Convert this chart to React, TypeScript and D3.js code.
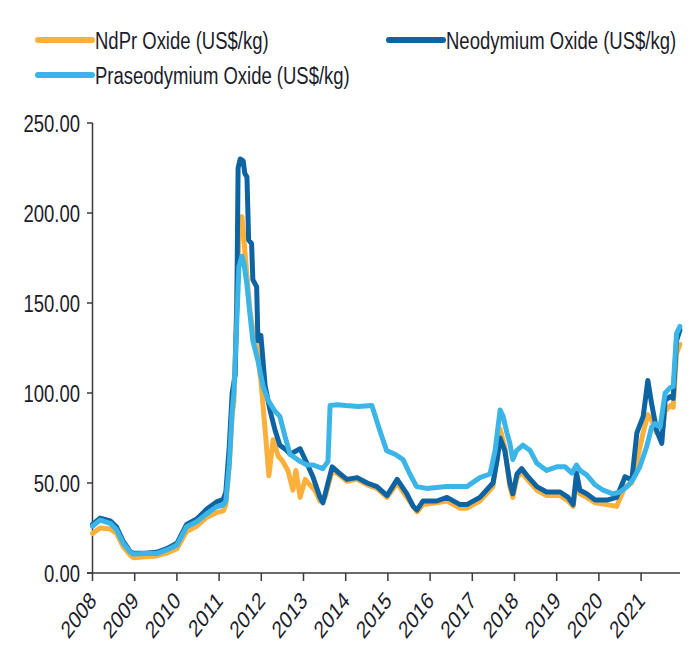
import { useEffect, useRef } from "react";
import * as d3 from "d3";

// [decimal year, US$/kg]
const ndprSeries: [number, number][] = [
  [2008.0, 22], [2008.18, 25], [2008.42, 24.5], [2008.57, 22], [2008.73, 14.5],
  [2008.89, 10], [2008.97, 8.5], [2009.24, 9], [2009.52, 9.5], [2009.76, 11],
  [2010.0, 13.5], [2010.23, 23], [2010.47, 26], [2010.71, 31], [2010.94, 33.5],
  [2011.1, 34.5], [2011.16, 38], [2011.24, 60], [2011.31, 88], [2011.35, 95],
  [2011.42, 150], [2011.47, 190], [2011.54, 198], [2011.59, 185], [2011.66, 165],
  [2011.73, 146], [2011.8, 135], [2011.89, 125], [2011.99, 107], [2012.11, 74],
  [2012.18, 54], [2012.28, 74], [2012.4, 65], [2012.51, 62], [2012.63, 57],
  [2012.75, 46], [2012.82, 57], [2012.92, 42], [2013.04, 52], [2013.15, 49],
  [2013.27, 46], [2013.39, 40], [2013.51, 42], [2013.6, 50], [2013.68, 57],
  [2013.82, 55], [2014.03, 51], [2014.27, 52], [2014.51, 49], [2014.74, 47],
  [2014.98, 42], [2015.22, 50], [2015.45, 42], [2015.69, 34], [2015.83, 38],
  [2016.16, 39], [2016.4, 40], [2016.71, 36], [2016.87, 36], [2017.18, 40],
  [2017.49, 48], [2017.59, 65], [2017.66, 80], [2017.77, 70], [2017.89, 48],
  [2017.96, 42], [2018.06, 53], [2018.17, 56], [2018.32, 51.5], [2018.53, 46],
  [2018.76, 43], [2019.08, 43], [2019.27, 40], [2019.39, 37], [2019.47, 52],
  [2019.55, 44], [2019.71, 42], [2019.91, 39], [2020.19, 38], [2020.42, 37],
  [2020.62, 48], [2020.78, 50], [2020.9, 62], [2021.05, 78], [2021.16, 88],
  [2021.25, 85], [2021.37, 78], [2021.49, 76], [2021.57, 90], [2021.69, 93],
  [2021.76, 92], [2021.84, 122], [2021.92, 127],
];

const neodymiumSeries: [number, number][] = [
  [2008.0, 27], [2008.18, 30.5], [2008.42, 29], [2008.57, 25.5], [2008.73, 17.5],
  [2008.89, 12], [2008.97, 11], [2009.24, 11], [2009.52, 11.5], [2009.76, 13.5],
  [2010.0, 16.5], [2010.23, 27], [2010.47, 30], [2010.71, 35.5], [2010.94, 39.5],
  [2011.1, 41], [2011.16, 45], [2011.24, 70], [2011.31, 100], [2011.38, 110],
  [2011.42, 150], [2011.45, 225], [2011.5, 230], [2011.57, 229], [2011.61, 222],
  [2011.66, 220], [2011.7, 185], [2011.77, 183], [2011.8, 163], [2011.89, 159],
  [2011.92, 129], [2011.99, 132], [2012.09, 104], [2012.21, 90], [2012.33, 79],
  [2012.44, 71], [2012.61, 68], [2012.68, 66], [2012.92, 69], [2013.08, 61],
  [2013.23, 53], [2013.39, 42], [2013.46, 39], [2013.58, 50], [2013.68, 59],
  [2013.82, 56], [2014.03, 52], [2014.27, 53], [2014.51, 50], [2014.74, 48],
  [2014.98, 43], [2015.22, 52], [2015.45, 44], [2015.6, 37], [2015.69, 35],
  [2015.83, 40], [2016.16, 40], [2016.4, 42], [2016.71, 38], [2016.87, 38],
  [2017.18, 42], [2017.49, 50], [2017.59, 63], [2017.66, 75], [2017.77, 68],
  [2017.89, 50], [2017.96, 44], [2018.06, 55], [2018.17, 58], [2018.32, 53.5],
  [2018.53, 48], [2018.76, 45], [2019.08, 45], [2019.27, 42], [2019.39, 38],
  [2019.47, 55.5], [2019.55, 46], [2019.71, 44], [2019.91, 40.5], [2020.19, 40.5],
  [2020.42, 42], [2020.62, 53.5], [2020.78, 51.7], [2020.9, 77.8], [2021.05, 87],
  [2021.16, 107], [2021.25, 94], [2021.37, 79], [2021.49, 72], [2021.57, 96],
  [2021.69, 98], [2021.76, 97], [2021.84, 129], [2021.92, 135],
];

const praseodymiumSeries: [number, number][] = [
  [2008.0, 26], [2008.18, 29.4], [2008.42, 27.6], [2008.57, 24], [2008.73, 16.5],
  [2008.89, 11.8], [2008.97, 10.5], [2009.24, 10.8], [2009.52, 10.8], [2009.76, 12.8],
  [2010.0, 15.5], [2010.23, 25.7], [2010.47, 28.5], [2010.71, 33], [2010.94, 36.8],
  [2011.1, 37.8], [2011.16, 40], [2011.24, 60], [2011.31, 90], [2011.35, 100],
  [2011.42, 140], [2011.47, 170], [2011.54, 176], [2011.59, 172], [2011.66, 160],
  [2011.73, 144], [2011.8, 129], [2011.92, 118], [2012.04, 104], [2012.16, 96],
  [2012.32, 90], [2012.44, 87], [2012.56, 76], [2012.68, 66], [2012.92, 62],
  [2013.08, 60], [2013.23, 60], [2013.46, 58], [2013.58, 62], [2013.63, 93],
  [2013.8, 93.5], [2014.0, 93], [2014.3, 92.5], [2014.62, 93], [2014.81, 79],
  [2014.97, 68], [2015.17, 66], [2015.36, 63], [2015.52, 55], [2015.68, 48],
  [2015.92, 47], [2016.39, 48], [2016.87, 48], [2017.18, 53], [2017.42, 55],
  [2017.54, 68], [2017.66, 90.5], [2017.73, 87], [2017.82, 78], [2017.89, 72],
  [2017.96, 63], [2018.05, 68], [2018.2, 71], [2018.37, 68], [2018.53, 61],
  [2018.76, 57], [2019.0, 59], [2019.2, 59], [2019.36, 55.5], [2019.47, 60],
  [2019.55, 57], [2019.71, 54.5], [2019.91, 49], [2020.1, 46], [2020.33, 44],
  [2020.5, 45], [2020.67, 48], [2020.81, 52], [2020.97, 59], [2021.13, 70],
  [2021.25, 81], [2021.33, 83], [2021.45, 81], [2021.57, 100], [2021.69, 103],
  [2021.76, 103.5], [2021.84, 133], [2021.92, 137],
];

const seriesNames = [
  "NdPr Oxide (US$/kg)",
  "Neodymium Oxide (US$/kg)",
  "Praseodymium Oxide (US$/kg)",
];
const seriesColors = ["#FBB03B", "#0E64A3", "#3BB4E7"];
const yTicks = [0, 50, 100, 150, 200, 250];
const yearTicks = d3.range(2008, 2022);

export default function App() {
  const ref = useRef<SVGSVGElement>(null);

  useEffect(() => {
    const svg = d3.select(ref.current);
    svg.selectAll("*").remove();

    const width = 693;
    const height = 659;
    const stretch = 1.3; // text in the original looks vertically stretched
    const font = "'Liberation Sans', Arial, sans-serif";
    const fontSize = 18.5;
    const textColor = "#1c1c2a";

    svg.attr("width", width).attr("height", height);

    const x = d3.scaleLinear().domain([2008, 2021.922]).range([92.5, 680]);
    const y = d3.scaleLinear().domain([0, 250]).range([573, 123]);
    const axisColor = "#3a3a3a";

    // y axis
    svg
      .append("line")
      .attr("x1", 92.5)
      .attr("x2", 92.5)
      .attr("y1", y(250))
      .attr("y2", y(0))
      .attr("stroke", axisColor)
      .attr("stroke-width", 1.5);

    yTicks.forEach((t) => {
      svg
        .append("line")
        .attr("x1", 87)
        .attr("x2", 92.5)
        .attr("y1", y(t))
        .attr("y2", y(t))
        .attr("stroke", axisColor)
        .attr("stroke-width", 1.5);
      svg
        .append("text")
        .attr("transform", `translate(80,${y(t)}) scale(1,${stretch})`)
        .attr("dy", "0.36em")
        .attr("text-anchor", "end")
        .attr("font-family", font)
        .attr("font-size", fontSize)
        .attr("fill", textColor)
        .text(t.toFixed(2));
    });

    // x axis
    svg
      .append("line")
      .attr("x1", 87)
      .attr("x2", 680)
      .attr("y1", y(0))
      .attr("y2", y(0))
      .attr("stroke", axisColor)
      .attr("stroke-width", 1.5);

    yearTicks.forEach((yr) => {
      svg
        .append("line")
        .attr("x1", x(yr))
        .attr("x2", x(yr))
        .attr("y1", y(0))
        .attr("y2", y(0) + 8)
        .attr("stroke", axisColor)
        .attr("stroke-width", 1.5);
      svg
        .append("text")
        .attr(
          "transform",
          `translate(${x(yr) + 5},${y(0) + 29}) scale(1,${stretch}) rotate(-45)`
        )
        .attr("text-anchor", "end")
        .attr("font-family", font)
        .attr("font-size", fontSize)
        .attr("fill", textColor)
        .text(String(yr));
    });

    // lines: NdPr below, then Nd, then Pr on top
    const line = d3
      .line<[number, number]>()
      .x((d) => x(d[0]))
      .y((d) => y(d[1]))
      .curve(d3.curveLinear);

    [ndprSeries, neodymiumSeries, praseodymiumSeries].forEach((s, i) => {
      svg
        .append("path")
        .datum(s)
        .attr("fill", "none")
        .attr("stroke", seriesColors[i])
        .attr("stroke-width", 5)
        .attr("stroke-linejoin", "round")
        .attr("stroke-linecap", "round")
        .attr("d", line);
    });

    // legend
    const legendPos = [
      { lx: 38, ly: 40 },
      { lx: 389, ly: 40 },
      { lx: 38, ly: 75 },
    ];
    legendPos.forEach((p, i) => {
      svg
        .append("line")
        .attr("x1", p.lx)
        .attr("x2", p.lx + 54)
        .attr("y1", p.ly)
        .attr("y2", p.ly)
        .attr("stroke", seriesColors[i])
        .attr("stroke-width", 6)
        .attr("stroke-linecap", "round");
      svg
        .append("text")
        .attr("transform", `translate(${p.lx + 57},${p.ly}) scale(1,${stretch})`)
        .attr("dy", "0.36em")
        .attr("font-family", font)
        .attr("font-size", fontSize)
        .attr("fill", textColor)
        .text(seriesNames[i]);
    });
  }, []);

  return (
    <svg
      ref={ref}
      style={{ position: "absolute", left: 0, top: 0, background: "#fff" }}
    ></svg>
  );
}
